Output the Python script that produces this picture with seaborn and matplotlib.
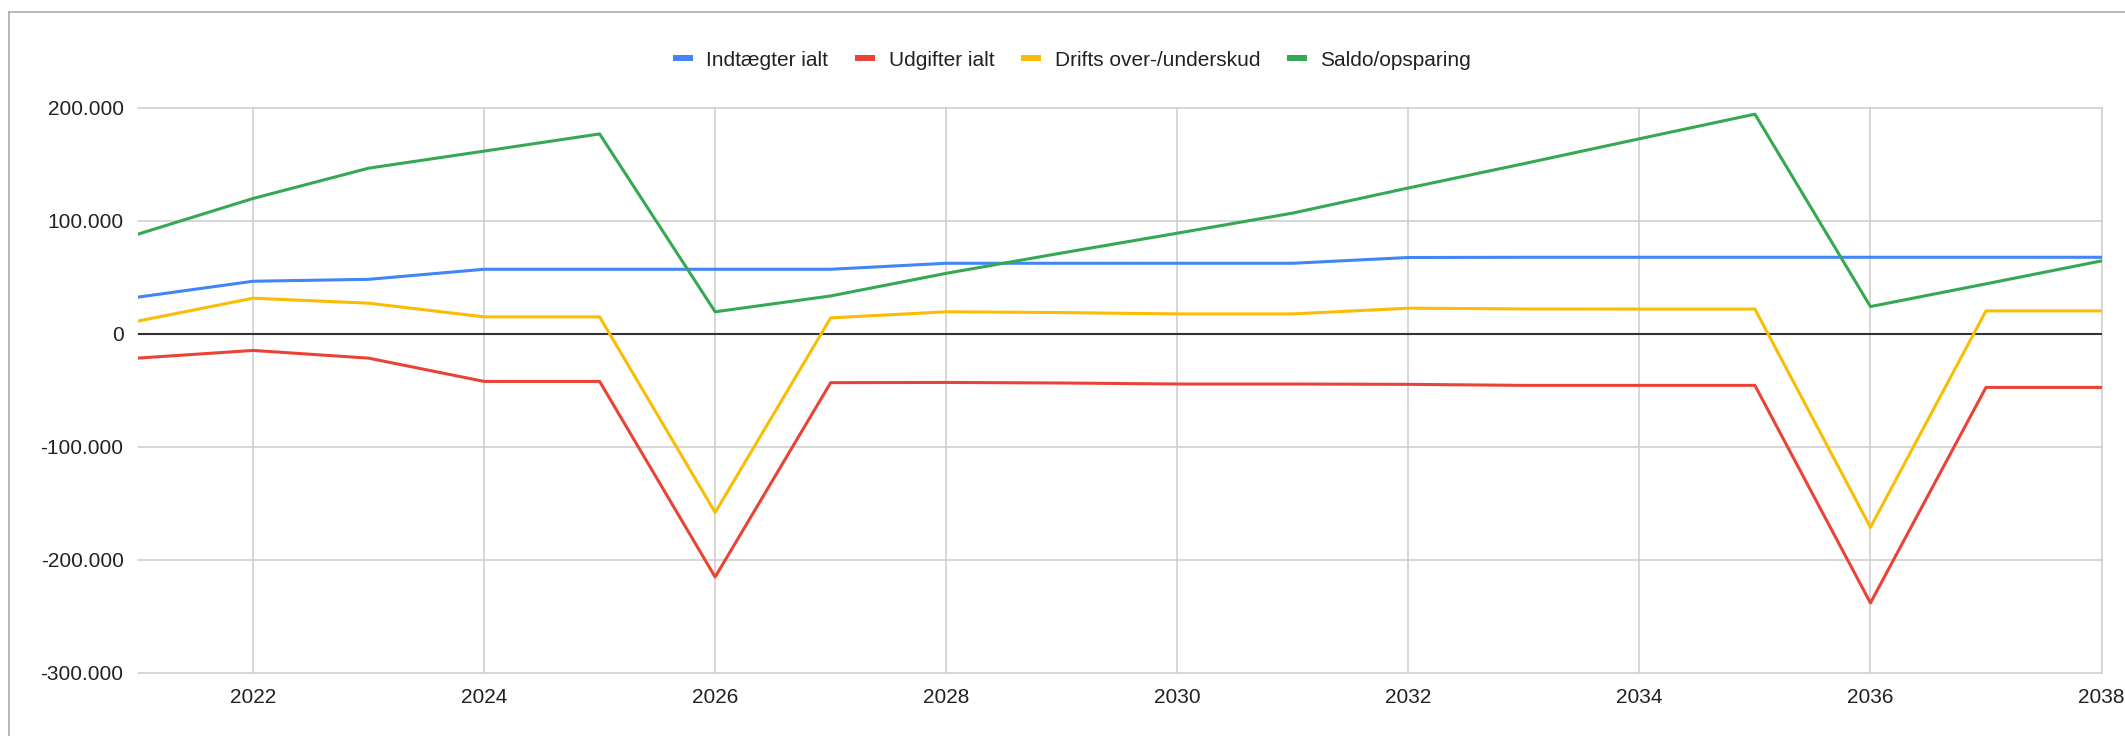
import pandas as pd
import numpy as np
import matplotlib
matplotlib.use("Agg")
import matplotlib.pyplot as plt
import seaborn as sns
from matplotlib.ticker import FuncFormatter
from matplotlib.lines import Line2D

# Data (DKK)
years = list(range(2021, 2039))
indtaegter = [32400, 46500, 48200, 57100, 57100, 57100, 57100, 62400, 62400,
              62400, 62400, 67500, 67700, 67700, 67700, 67700, 67700, 67700]
udgifter = [-21500, -14700, -21500, -42100, -42100, -215100, -43200, -43000, -43500,
            -44400, -44400, -44700, -45600, -45600, -45600, -238000, -47400, -47400]
drifts = [11200, 31500, 27100, 15000, 15000, -158000, 14100, 19500, 18800,
          17600, 17600, 22700, 22000, 21900, 21900, -171200, 20300, 20300]
saldo = [88000, 119700, 146500, 161600, 176800, 19500, 33500, 53500, 71500,
         89000, 106800, 129000, 150500, 172500, 194300, 24100, 44200, 64500]

series_names = ["Indtægter ialt", "Udgifter ialt", "Drifts over-/underskud", "Saldo/opsparing"]
colors = ["#4285F4", "#EA4335", "#FBBC04", "#34A853"]

df = pd.DataFrame({"År": years,
                   series_names[0]: indtaegter,
                   series_names[1]: udgifter,
                   series_names[2]: drifts,
                   series_names[3]: saldo})
long_df = df.melt(id_vars="År", var_name="Serie", value_name="Beløb")

sns.set_style("white")
plt.rcParams["font.family"] = ["Liberation Sans", "DejaVu Sans"]

fig = plt.figure(figsize=(21.25, 7.36), dpi=100)
ax = fig.add_axes([137.5 / 2125, 1 - 673 / 736, 1964 / 2125, (673 - 107.7) / 736])

sns.lineplot(data=long_df, x="År", y="Beløb", hue="Serie", hue_order=series_names,
             palette=colors, linewidth=2.2, legend=False, ax=ax, zorder=3)

ax.set_xlim(2021, 2038)
ax.set_ylim(-300000, 200000)
ax.set_xticks(range(2022, 2039, 2))
ax.set_yticks(range(-300000, 200001, 100000))
ax.yaxis.set_major_formatter(FuncFormatter(lambda v, p: f"{int(v):,}".replace(",", ".")))
ax.set_xlabel("")
ax.set_ylabel("")

ax.grid(True, color="#cccccc", linewidth=1.1, zorder=0)
for gl in ax.get_xgridlines() + ax.get_ygridlines():
    gl.set_clip_on(False)
ax.axhline(0, color="#333333", linewidth=1.5, zorder=2)
for s in ax.spines.values():
    s.set_visible(False)
ax.tick_params(axis="both", length=0, labelsize=15, labelcolor="#222222")
ax.tick_params(axis="y", pad=10)
ax.tick_params(axis="x", pad=11)

handles = [Line2D([0], [0], color=c, linewidth=4.3, solid_capstyle="butt") for c in colors]
fig.legend(handles, series_names, loc="center", bbox_to_anchor=(1072 / 2125, 1 - 60 / 736),
           ncol=4, frameon=False, fontsize=15, handlelength=0.95, handletextpad=0.65,
           columnspacing=1.3, labelcolor="#222222")

# thin grey frame around the chart area like the spreadsheet export
fig.add_artist(Line2D([8.5 / 2125, 8.5 / 2125], [0, 1 - 11.7 / 736], color="#aaaaaa",
                      linewidth=1.2, transform=fig.transFigure))
fig.add_artist(Line2D([8.5 / 2125, 1], [1 - 11.7 / 736, 1 - 11.7 / 736], color="#aaaaaa",
                      linewidth=1.2, transform=fig.transFigure))

fig.savefig("out.png", dpi=100)
